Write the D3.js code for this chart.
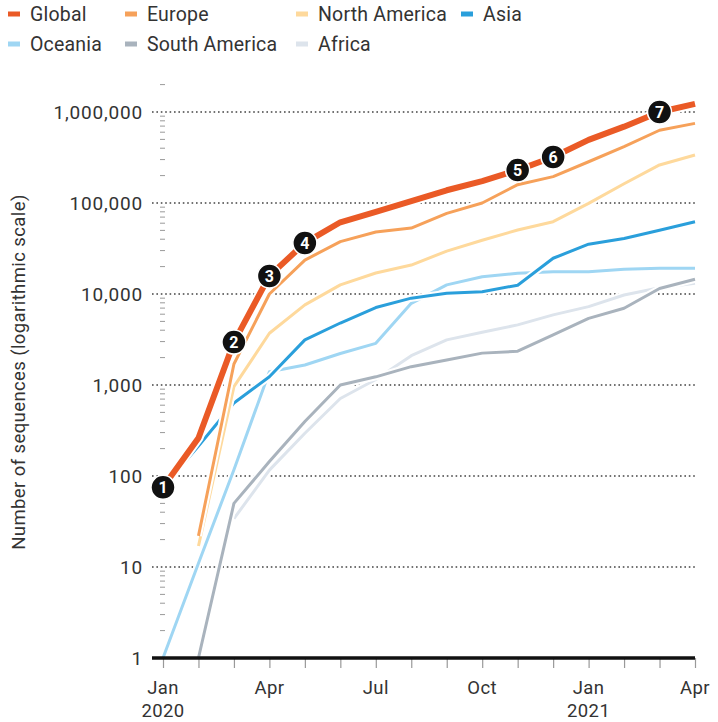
<!DOCTYPE html>
<html>
<head>
<meta charset="utf-8">
<script src="https://cdn.jsdelivr.net/npm/d3@7.9.0/dist/d3.min.js"></script>
<style>
  html, body { margin: 0; padding: 0; background: #fff; }
  svg { display: block; font-family: Roboto, "Noto Sans", sans-serif; }
</style>
</head>
<body>
<div id="chart"></div>
<script>
// ---------------------- Data ----------------------
const monthLabels = ['Jan\n2020', 'Feb', 'Mar', 'Apr', 'May', 'Jun', 'Jul', 'Aug', 'Sep', 'Oct', 'Nov', 'Dec', 'Jan\n2021', 'Feb', 'Mar', 'Apr'];
const labelledMonths = [0, 3, 6, 9, 12, 15];

const globalSeq       = [75, 262, 2960, 15800, 36400, 61400, 80000, 105000, 138000, 174000, 230000, 320000, 494000, 690000, 1000000, 1230000];
const europeSeq       = [null, 22, 1700, 10000, 23600, 37600, 48000, 53000, 77000, 100000, 159000, 195000, 284000, 417000, 630000, 750000];
const northAmericaSeq = [null, 17, 960, 3700, 7600, 12600, 17000, 20800, 29600, 39000, 50500, 62300, 99000, 163000, 262000, 337000];
const asiaSeq         = [75, 214, 635, 1230, 3130, 4800, 7100, 9000, 10200, 10600, 12500, 24700, 35300, 40800, 50200, 62300];
const oceaniaSeq      = [1, 11, 117, 1400, 1660, 2220, 2870, 7900, 12600, 15500, 16900, 17600, 17600, 18700, 19200, 19200];
const southAmericaSeq = [null, 1, 50, 144, 397, 1000, 1230, 1590, 1880, 2240, 2350, 3550, 5400, 6970, 11500, 14500];
const africaSeq       = [null, null, 34, 116, 295, 710, 1150, 2100, 3130, 3800, 4580, 5900, 7270, 9750, 11700, 13100];

// milestone markers on the global line: [label, month index]
const milestones = [[1, 0], [2, 2], [3, 3], [4, 4], [5, 10], [6, 11], [7, 14]];

const yTicks = [1, 10, 100, 1000, 10000, 100000, 1000000];

// ---------------------- Setup ----------------------
const width = 718, height = 722;

const series = [
  { name: 'Africa',        values: africaSeq,       color: '#dde4ec', w: 3 },
  { name: 'South America', values: southAmericaSeq, color: '#a9b3bd', w: 3 },
  { name: 'Oceania',       values: oceaniaSeq,      color: '#9fd6f3', w: 3 },
  { name: 'Asia',          values: asiaSeq,         color: '#2a9fdb', w: 3 },
  { name: 'North America', values: northAmericaSeq, color: '#fed99c', w: 3 },
  { name: 'Europe',        values: europeSeq,       color: '#f6a15a', w: 3 },
  { name: 'Global',        values: globalSeq,       color: '#ea5a26', w: 6 }
];

const legendOrder = ['Global', 'Europe', 'North America', 'Asia', 'Oceania', 'South America', 'Africa'];
const legendX = [8, 125, 296, 461];

const svg = d3.select('#chart').append('svg')
  .attr('width', width)
  .attr('height', height);

const x = d3.scaleLinear().domain([0, 15]).range([163, 695]);
const y = d3.scaleLog().domain([1, 1000000]).range([658, 112]);

// ---------------------- Legend ----------------------
const legend = svg.append('g').attr('class', 'legend');
legendOrder.forEach((name, i) => {
  const s = series.find(d => d.name === name);
  const g = legend.append('g')
    .attr('transform', `translate(${legendX[i % 4]}, ${i < 4 ? 14 : 44})`);
  g.append('rect').attr('x', 0).attr('y', -2.5).attr('width', 12).attr('height', 5).attr('fill', s.color);
  g.append('text').attr('x', 22).attr('y', 0).attr('dy', '0.35em')
    .attr('font-size', 19.5).attr('letter-spacing', 0.2).attr('fill', '#333').text(name);
});

// ---------------------- Y axis ----------------------
const minor = [];
for (let e = 0; e < 7; e++) {
  for (let k = 2; k <= 9; k++) {
    const v = k * Math.pow(10, e);
    if (v <= 2000000) minor.push(v);
  }
}
svg.append('g').attr('class', 'minor-ticks')
  .selectAll('line').data(minor).join('line')
  .attr('x1', 160).attr('x2', 165)
  .attr('y1', d => y(d)).attr('y2', d => y(d))
  .attr('stroke', '#9a9a9a').attr('stroke-width', 1);

svg.append('g').attr('class', 'grid')
  .selectAll('line').data(yTicks.filter(d => d > 1)).join('line')
  .attr('x1', 152).attr('x2', 695)
  .attr('y1', d => y(d)).attr('y2', d => y(d))
  .attr('stroke', '#444').attr('stroke-width', 1.6)
  .attr('stroke-dasharray', '1.6,2.8');

const yAxis = svg.append('g').attr('class', 'y-axis')
  .attr('transform', 'translate(152,0)')
  .call(d3.axisLeft(y).tickValues(yTicks).tickFormat(d3.format(',')).tickSize(0).tickPadding(9));
yAxis.select('.domain').remove();
yAxis.selectAll('text').attr('font-size', 19).attr('letter-spacing', 0.8).attr('fill', '#333')
  .attr('font-family', 'Roboto, "Noto Sans", sans-serif');

svg.append('text')
  .attr('transform', 'translate(19, 372) rotate(-90)')
  .attr('text-anchor', 'middle')
  .attr('font-size', 18.5).attr('letter-spacing', 0.4).attr('fill', '#333')
  .attr('dy', '0.35em')
  .text('Number of sequences (logarithmic scale)');

// ---------------------- Lines ----------------------
const line = d3.line()
  .defined(d => d != null)
  .x((d, i) => x(i))
  .y(d => y(d));

const lines = svg.append('g').attr('class', 'lines');
series.forEach(s => {
  lines.append('path')
    .attr('d', line(s.values))
    .attr('fill', 'none')
    .attr('stroke', '#fff')
    .attr('stroke-width', s.w + 4)
    .attr('stroke-linejoin', 'round');
  lines.append('path')
    .attr('d', line(s.values))
    .attr('fill', 'none')
    .attr('stroke', s.color)
    .attr('stroke-width', s.w)
    .attr('stroke-linejoin', 'round');
});

// ---------------------- X axis ----------------------
const xAxis = svg.append('g').attr('class', 'x-axis')
  .attr('transform', 'translate(0,658)')
  .call(d3.axisBottom(x).tickValues(d3.range(16)).tickSize(10).tickFormat(''));
xAxis.select('.domain').remove();
xAxis.selectAll('.tick line').attr('stroke', '#999').attr('stroke-width', 1.2);

svg.append('line')
  .attr('x1', 152).attr('x2', 695)
  .attr('y1', y(1)).attr('y2', y(1))
  .attr('stroke', '#111').attr('stroke-width', 3.5);

const xl = svg.append('g').attr('class', 'x-labels')
  .selectAll('text').data(labelledMonths).join('text')
  .attr('x', d => x(d))
  .attr('y', 694)
  .attr('text-anchor', 'middle')
  .attr('font-size', 18.5).attr('letter-spacing', 0.4).attr('fill', '#333');
xl.each(function (d) {
  const parts = monthLabels[d].split('\n');
  const t = d3.select(this);
  parts.forEach((p, j) => {
    t.append('tspan').attr('x', x(d)).attr('dy', j === 0 ? 0 : 22.5).text(p);
  });
});

// ---------------------- Markers ----------------------
const markers = svg.append('g').attr('class', 'markers')
  .selectAll('g').data(milestones).join('g')
  .attr('transform', d => `translate(${x(d[1])}, ${y(globalSeq[d[1]])})`);
markers.append('circle')
  .attr('r', 12)
  .attr('fill', '#111')
  .attr('stroke', '#fff')
  .attr('stroke-width', 1.5);
markers.append('text')
  .attr('text-anchor', 'middle')
  .attr('dy', '0.36em')
  .attr('font-size', 16)
  .attr('font-weight', 'bold')
  .attr('fill', '#fff')
  .text(d => d[0]);
</script>
</body>
</html>
